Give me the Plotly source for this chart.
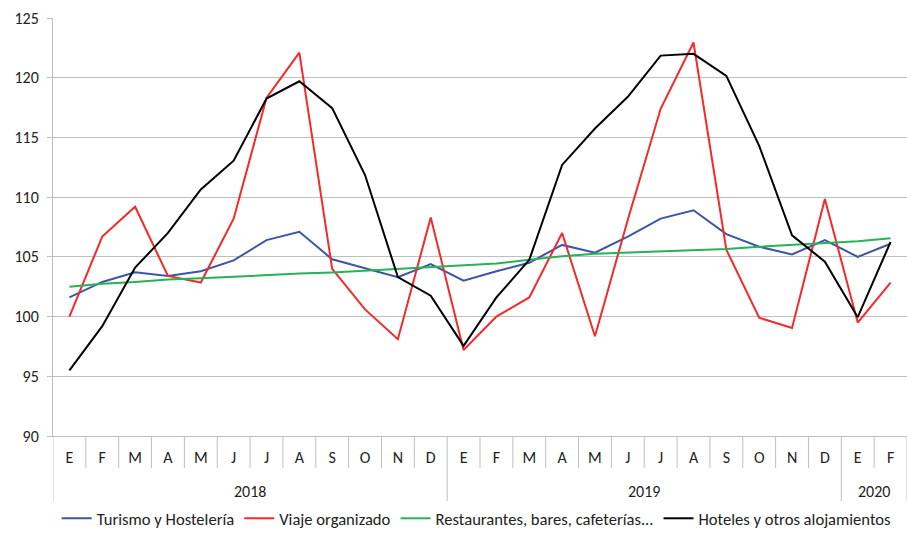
import plotly.graph_objects as go

months = ["E", "F", "M", "A", "M", "J", "J", "A", "S", "O", "N", "D",
          "E", "F", "M", "A", "M", "J", "J", "A", "S", "O", "N", "D",
          "E", "F"]
years = ["2018"] * 12 + ["2019"] * 12 + ["2020"] * 2

turismo = [101.6, 102.9, 103.7, 103.4, 103.8, 104.7, 106.4, 107.1, 104.8, 104.05,
           103.3, 104.4, 103.0, 103.8, 104.5, 106.0, 105.35, 106.7, 108.2, 108.9,
           106.9, 105.85, 105.2, 106.4, 105.0, 106.1]
viaje = [100.0, 106.7, 109.2, 103.4, 102.85, 108.2, 118.3, 122.1, 104.0, 100.6,
         98.1, 108.3, 97.2, 100.0, 101.6, 107.0, 98.35, 108.1, 117.4, 122.95,
         105.6, 99.9, 99.05, 109.85, 99.5, 102.85]
restaurantes = [102.5, 102.75, 102.9, 103.1, 103.2, 103.35, 103.5, 103.6, 103.7, 103.85,
                103.95, 104.1, 104.25, 104.45, 104.75, 105.05, 105.25, 105.35, 105.5, 105.55,
                105.65, 105.85, 106.0, 106.1, 106.3, 106.55]
hoteles = [95.5, 99.2, 104.1, 107.0, 110.65, 113.05, 118.25, 119.7, 117.45, 111.85,
           103.3, 101.75, 97.55, 101.6, 104.75, 112.7, 115.75, 118.4, 121.85, 122.0,
           120.15, 114.3, 106.8, 104.6, 99.95, 106.25]

series_names = ["Turismo y Hostelería", "Viaje organizado",
                "Restaurantes, bares, cafeterías...", "Hoteles y otros alojamientos"]
series_colors = ["#3D55A8", "#F42A2A", "#27B257", "#000000"]
series_values = [turismo, viaje, restaurantes, hoteles]

FONT = "Carlito, Lato, sans-serif"
GRID = "#BFBFBF"
TXT = "#222222"
FS = 16
LFS = 16.6

x_pos = list(range(len(months)))

fig = go.Figure()
for name, color, vals in zip(series_names, series_colors, series_values):
    fig.add_trace(go.Scatter(
        x=x_pos, y=vals, name=name, mode="lines",
        line=dict(color=color, width=2), hoverinfo="skip"))

# separators below the x axis (month boundaries short, year boundaries long)
plot_h = 534 - 18 - 98
short_len = 32 / plot_h
long_len = 65 / plot_h
shapes = []
for i in range(len(months) + 1):
    b = i - 0.5
    is_year_edge = (i == 0 or i == len(months) or years[i] != years[i - 1])
    shapes.append(dict(type="line", xref="x", yref="paper", x0=b, x1=b,
                       y0=0, y1=-(long_len if is_year_edge else short_len),
                       line=dict(color=GRID, width=1)))

# year labels centred under each year group
annotations = []
uniq_years = []
for y in years:
    if y not in uniq_years:
        uniq_years.append(y)
for y in uniq_years:
    idx = [i for i, yy in enumerate(years) if yy == y]
    cx = (idx[0] + idx[-1]) / 2
    annotations.append(dict(text=y, x=cx, xref="x", y=-(55 / plot_h), yref="paper",
                            xanchor="center", yanchor="middle", showarrow=False,
                            font=dict(family=FONT, size=FS, color=TXT)))

fig.update_layout(
    width=907, height=534,
    margin=dict(l=53, r=0, t=18, b=98),
    paper_bgcolor="white", plot_bgcolor="white",
    font=dict(family=FONT, size=FS, color=TXT),
    showlegend=True,
    legend=dict(orientation="h", xref="container", yref="container",
                x=0.525, xanchor="center", y=1 - 501 / 534, yanchor="top",
                font=dict(size=LFS), itemwidth=30, tracegroupgap=0,
                bgcolor="rgba(0,0,0,0)"),
    shapes=shapes,
    annotations=annotations,
)
fig.update_xaxes(
    range=[-0.5, len(months) - 0.5], tickmode="array", tickvals=x_pos, ticktext=months,
    showgrid=False, showline=True, linecolor=GRID, linewidth=1, ticks="",
    ticklabelstandoff=7, zeroline=False, tickfont=dict(size=FS),
)
fig.update_yaxes(
    range=[90, 125], dtick=5, tick0=90, showgrid=True, gridcolor=GRID, gridwidth=1,
    showline=True, linecolor=GRID, linewidth=1, ticks="outside", ticklen=5,
    tickcolor=GRID, zeroline=False, tickfont=dict(size=FS), ticklabelstandoff=5,
)

fig.write_html("out.html", config={"displayModeBar": False},
               post_script="document.body.style.margin='0';")
